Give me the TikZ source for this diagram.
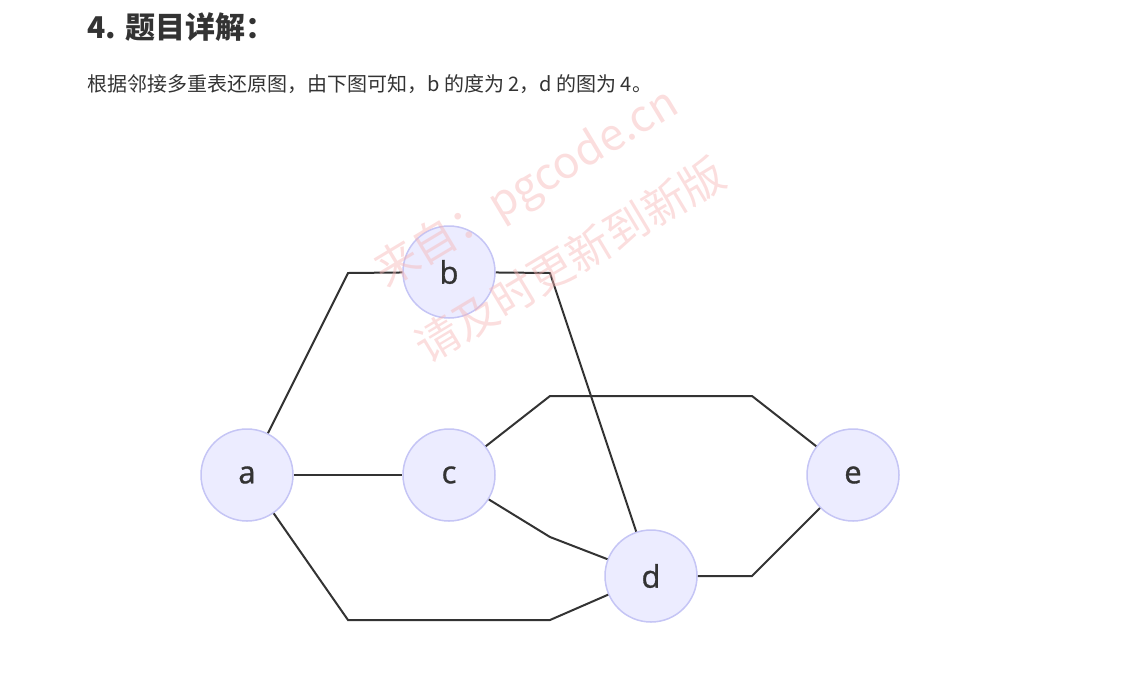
\documentclass[tikz,border=0pt]{standalone}
\usepackage{fontspec}
\usepackage{xcolor}
\usepackage{tikz}
\usetikzlibrary{shapes, arrows.meta, positioning}
\newfontfamily\cjk{Noto Sans CJK SC}
\newfontfamily\labelfont{Open Sans}[FakeBold=1]
\definecolor{vfill}{HTML}{ECECFF}
\definecolor{vline}{HTML}{C5C5F5}
\definecolor{eline}{HTML}{333333}
\definecolor{wmark}{HTML}{F7B5B5}
\tikzset{
    vertex/.style={draw=vline, fill=vfill, circle, line width=1.5pt, minimum size=92pt, inner sep=0pt, font=\labelfont\fontsize{31}{31}\selectfont, text=eline},
    edge/.style={draw=eline, line width=2pt, line join=miter}
}
\begin{document}
\begin{tikzpicture}[x=1pt, y=-1pt]
            \useasboundingbox (0,0) rectangle (1142,689);
            \node[anchor=base west, inner sep=0pt, font=\cjk\bfseries\fontsize{30}{30}\selectfont, text=eline] (title) at (87,38) {4. 题目详解：};
            \node[anchor=base west, inner sep=0pt, font=\cjk\fontsize{20}{20}\selectfont, text=eline] (intro) at (87,91) {根据邻接多重表还原图，由下图可知，b 的度为 2，d 的图为 4。};
            % vertices
            \node[vertex] (a) at (247,475) {a};
            \node[vertex] (b) at (449,272) {b};
            \node[vertex] (c) at (449,475) {c};
            \node[vertex] (d) at (651,576) {d};
            \node[vertex] (e) at (853,475) {e};
            % edges
            \draw[edge] (a) -- (348,273) -- (b);
            \draw[edge] (b) -- (550,273) -- (d);
            \draw[edge] (a) -- (c);
            \draw[edge] (c) -- (550,396) -- (752,396) -- (e);
            \draw[edge] (c) -- (550,537) -- (d);
            \draw[edge] (a) -- (348,620) -- (550,620) -- (d);
            \draw[edge] (d) -- (752,576) -- (e);
            % watermark
            \node[rotate=31, font=\cjk\fontsize{44}{44}\selectfont, text=wmark, opacity=0.45] (mark1) at (527,189) {来自：pgcode.cn};
            \node[rotate=31, font=\cjk\fontsize{44}{44}\selectfont, text=wmark, opacity=0.45] (mark2) at (570,260) {请及时更新到新版};
\end{tikzpicture}
\end{document}
